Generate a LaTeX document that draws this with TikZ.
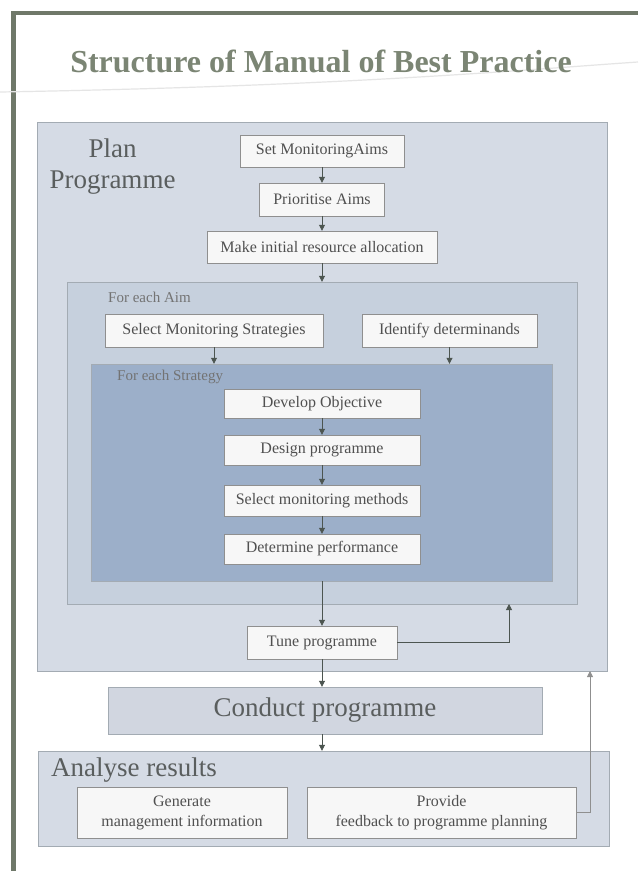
\documentclass[tikz,border=0pt]{standalone}
\usepackage{fontspec}
\setmainfont{Liberation Serif}
\usetikzlibrary{arrows.meta}
\definecolor{framecol}{HTML}{6F7869}
\definecolor{titlecol}{HTML}{7B8574}
\definecolor{planfill}{HTML}{D5DBE5}
\definecolor{aimfill}{HTML}{C6D0DD}
\definecolor{stratfill}{HTML}{9CAFC9}
\definecolor{arealine}{HTML}{A3ABB3}
\definecolor{boxline}{HTML}{8F8F8F}
\definecolor{boxfill}{HTML}{F7F7F7}
\definecolor{boxtext}{HTML}{505050}
\definecolor{bigtext}{HTML}{5A5E5E}
\definecolor{arrcol}{HTML}{4C5550}
\begin{document}
\begin{tikzpicture}[x=1pt,y=-1pt,
box/.style={draw=boxline,fill=boxfill,inner sep=0pt,align=center,text=boxtext,font=\fontsize{16}{20}\selectfont},
area/.style={draw=arealine,inner sep=0pt},
biglbl/.style={inner sep=0pt,text=bigtext,font=\fontsize{27}{31}\selectfont},
smalllbl/.style={inner sep=0pt,anchor=west,text=boxtext!80,font=\fontsize{15}{18}\selectfont},
arr/.style={draw=arrcol,line width=.8pt,-{Triangle[length=6pt,width=6pt]}}]
\useasboundingbox[fill=white] (0,0) rectangle (638,871);
\draw[framecol,line width=5pt] (13,871) -- (13,11);
\draw[framecol,line width=4pt] (11,13) -- (638,13);
\draw[gray!20,line width=1.2pt] (0,92) .. controls (350,86) and (520,70) .. (638,62);
\node[inner sep=0pt,anchor=base,text=titlecol,font=\bfseries\fontsize{32}{36}\selectfont] (title) at (321,72) {Structure of Manual of Best Practice};
%%%%
\node[area,fill=planfill,minimum width=570,minimum height=549] (plan) at (322,396.5) {};
\node[area,fill=aimfill,minimum width=510,minimum height=322] (aim) at (322,443) {};
\node[area,fill=stratfill,minimum width=461,minimum height=217] (strat) at (322,472.5) {};
\node[biglbl,anchor=base] (planlbl) at (112.5,157) {Plan};
\node[biglbl,anchor=base] (proglbl) at (112.5,188) {Programme};
\node[smalllbl] (aimlbl) at (108,297) {For each Aim};
\node[smalllbl] (stratlbl) at (117,377) {For each Strategy};
\node[box,minimum width=164,minimum height=32] (setaims) at (322,151) {Set MonitoringAims};
\node[box,minimum width=125,minimum height=33] (prio) at (322,199.5) {Prioritise Aims};
\node[box,minimum width=230,minimum height=32] (alloc) at (322,247) {Make initial resource allocation};
\node[box,minimum width=218,minimum height=33] (selstrat) at (214,330.5) {Select Monitoring Strategies};
\node[box,minimum width=175,minimum height=33] (ident) at (449.5,330.5) {Identify determinands};
\node[box,minimum width=196,minimum height=29] (devobj) at (322,403.5) {Develop Objective};
\node[box,minimum width=196,minimum height=30] (design) at (322,450) {Design programme};
\node[box,minimum width=196,minimum height=31] (selmeth) at (322,500.5) {Select monitoring methods};
\node[box,minimum width=196,minimum height=30] (detperf) at (322,549) {Determine performance};
\node[box,minimum width=150,minimum height=33] (tune) at (322,642.5) {Tune programme};
%%%%
\node[area,fill=planfill!95!gray,minimum width=434,minimum height=47] (conduct) at (325,710.5) {};
\node[biglbl] (conductlbl) at (conduct) {Conduct programme};
\node[area,fill=planfill,minimum width=571,minimum height=95] (analyse) at (323.5,798.5) {};
\node[biglbl,anchor=base west] (analyselbl) at (51,776) {Analyse results};
\node[box,minimum width=210,minimum height=51] (gen) at (182,812.5) {Generate\\management information};
\node[box,minimum width=269,minimum height=51] (provide) at (441.5,812.5) {Provide\\feedback to programme planning};
%%%%
\foreach \a/\b in {setaims/prio,prio/alloc,devobj/design,design/selmeth,selmeth/detperf}
\draw[arr] (\a.south) -- (\b.north);
\draw[arr] (alloc.south) -- (alloc.south |- aim.north);
\draw[arr] (selstrat.south) -- (selstrat.south |- strat.north);
\draw[arr] (ident.south) -- (ident.south |- strat.north);
\draw[arr] (strat.south) -- (tune.north);
\draw[arr] (tune.south) -- (tune.south |- conduct.north);
\draw[arr] (conduct.south -| tune.south) -- (tune.south |- analyse.north);
\coordinate (aimback) at (509,604);
\draw[arr] (tune.east) -| (aimback);
\coordinate (planback) at (590,671);
\draw[arr,draw=boxline] (provide.east) -| (planback);
\end{tikzpicture}
\end{document}
